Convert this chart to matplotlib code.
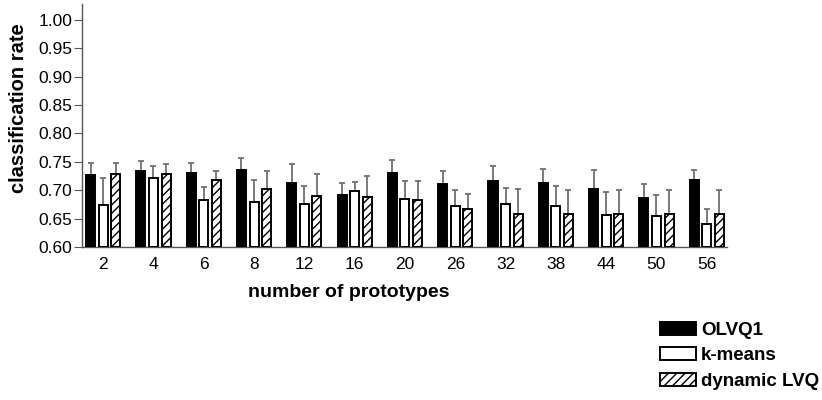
import numpy as np
import matplotlib
matplotlib.use("Agg")
import matplotlib.pyplot as plt

plt.rcParams["font.family"] = ["Liberation Sans", "DejaVu Sans"]
plt.rcParams["hatch.linewidth"] = 1.0

# === Data ===
prototypes = ["2", "4", "6", "8", "12", "16", "20", "26", "32", "38", "44", "50", "56"]

olvq1 = [0.727, 0.733, 0.731, 0.735, 0.712, 0.692, 0.731, 0.711, 0.717, 0.712, 0.703, 0.687, 0.718]
olvq1_err = [0.021, 0.018, 0.017, 0.022, 0.035, 0.021, 0.023, 0.023, 0.025, 0.025, 0.032, 0.024, 0.017]

kmeans = [0.674, 0.721, 0.682, 0.679, 0.676, 0.698, 0.684, 0.672, 0.676, 0.672, 0.657, 0.655, 0.641]
kmeans_err = [0.047, 0.022, 0.023, 0.039, 0.032, 0.017, 0.032, 0.029, 0.028, 0.035, 0.040, 0.037, 0.026]

dynlvq = [0.728, 0.728, 0.718, 0.702, 0.689, 0.688, 0.682, 0.667, 0.659, 0.658, 0.658, 0.658, 0.658]
dynlvq_err = [0.020, 0.018, 0.016, 0.032, 0.039, 0.037, 0.034, 0.027, 0.043, 0.043, 0.043, 0.043, 0.043]

series = [
    ("OLVQ1", olvq1, olvq1_err, "black", ""),
    ("k-means", kmeans, kmeans_err, "white", ""),
    ("dynamic LVQ", dynlvq, dynlvq_err, "white", "////"),
]

fig = plt.figure(figsize=(8.22, 4.0), dpi=100)
ax = fig.add_axes([0.0998, 0.3825, 0.7845, 0.6075])

x = np.arange(len(prototypes))
spacing = 0.25
width = 0.18
base = 0.60

handles = []
for k, (name, vals, errs, fc, hatch) in enumerate(series):
    xpos = x + (k - 1) * spacing
    heights = np.array(vals) - base
    b = ax.bar(xpos, heights, width=width, bottom=base, color=fc, edgecolor="black",
               linewidth=1.4, hatch=hatch, label=name, zorder=3)
    handles.append(b)
    _, caps, _ = ax.errorbar(xpos, vals, yerr=[np.zeros(len(vals)), errs], fmt="none",
                             ecolor="#707070", elinewidth=1.3, capsize=2.5, capthick=1.3, zorder=2)
    caps[0].set_visible(False)
    caps[1].set_color("#222222")

ax.set_xlim(-0.42, len(prototypes) - 1 + 0.40)
ax.set_ylim(0.60, 1.028)
ax.set_yticks(np.arange(0.60, 1.001, 0.05))
ax.set_yticklabels([f"{v:.2f}" for v in np.arange(0.60, 1.001, 0.05)])
ax.set_xticks(x)
ax.set_xticklabels(prototypes)

for side in ["top", "right"]:
    ax.spines[side].set_visible(False)
for side in ["left", "bottom"]:
    ax.spines[side].set_color("#555555")
    ax.spines[side].set_linewidth(1.0)

ax.tick_params(axis="y", length=6, color="#555555", labelsize=12.5, pad=1)
ax.tick_params(axis="x", length=0, labelsize=12.5, pad=7)

ax.set_ylabel("classification rate", fontsize=14.5, fontweight="bold")
ax.set_xlabel("number of prototypes", fontsize=14, fontweight="bold")
# labels in the reference are not centred on the axes
ax.yaxis.set_label_coords((28 - 82) / 645, (247 - 108) / 243)
ax.xaxis.set_label_coords((349 - 82) / 645, -(284 - 247) / 243)

fig.legend(handles=handles, loc="upper left", bbox_to_anchor=(652 / 822, 1 - 314 / 400),
           frameon=False, prop={"weight": "bold", "size": 13.5},
           handlelength=1.95, handleheight=0.7, handletextpad=0.25, labelspacing=0.45,
           borderaxespad=0)

fig.savefig("out.png", dpi=100)
